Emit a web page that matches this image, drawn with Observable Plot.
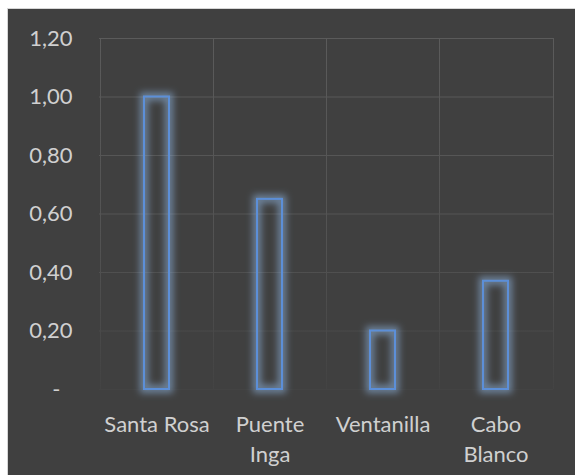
<!DOCTYPE html>
<html>
<head>
<meta charset="utf-8">
<script src="https://cdn.jsdelivr.net/npm/d3@7"></script>
<script src="https://cdn.jsdelivr.net/npm/@observablehq/plot@0.6"></script>
<style>
  html, body { margin: 0; padding: 0; background: #ffffff; }
  #chart {
    position: absolute; left: 7px; top: 8px;
    width: 568px; height: 467px;
    background: #404040;
    border-left: 1px solid #d6d6d6; border-top: 1px solid #d6d6d6;
    overflow: hidden;
  }
  #chart svg { display: block; }
</style>
</head>
<body>
<div id="chart"></div>
<script>
// Sampling sites and measured values
const sites = ["Santa Rosa", "Puente Inga", "Ventanilla", "Cabo Blanco"];
const siteLabels = ["Santa Rosa", "Puente\nInga", "Ventanilla", "Cabo\nBlanco"];
const values = [1.00, 0.65, 0.20, 0.37];
const yTicks = [0, 0.2, 0.4, 0.6, 0.8, 1.0, 1.2];

const data = sites.map((site, i) => ({site, value: values[i]}));
const fmt = v => d3.format(".2f")(v).replace(".", ",");

const W = 568, H = 466;
const M = {top: 29, right: 23, bottom: 86, left: 91};

// vertical separators at the band edges, drawn from the x scale
function bandSeparators(index, scales, values, dims) {
  const g = d3.create("svg:g");
  const xs = sites.map(s => scales.x(s)).concat([dims.width - dims.marginRight]);
  g.selectAll("line").data(xs).join("line")
    .attr("x1", d => Math.round(d) + 0.5).attr("x2", d => Math.round(d) + 0.5)
    .attr("y1", dims.marginTop).attr("y2", dims.height - dims.marginBottom)
    .attr("stroke", "url(#gridFade)").attr("stroke-width", 1);
  return g.node();
}

const chart = Plot.plot({
  width: W, height: H,
  marginTop: M.top, marginRight: M.right, marginBottom: M.bottom, marginLeft: M.left,
  style: {background: "transparent", color: "#d0d0d0", fontFamily: "Lato, 'Open Sans', sans-serif", fontSize: "22px"},
  x: {type: "band", domain: sites, padding: 0, label: null},
  y: {domain: [0, 1.2], label: null},
  marks: [
    Plot.ruleY(yTicks, {stroke: "url(#gridFade)", strokeWidth: 1}),
    bandSeparators,
    Plot.barY(data, {x: "site", y: "value", fill: "none", stroke: "#5b8fd8", strokeWidth: 2, insetLeft: 44, insetRight: 44}),
    Plot.axisY(yTicks.filter(v => v > 0), {tickSize: 0, tickPadding: 27, tickFormat: fmt}),
    Plot.axisY([0], {tickSize: 0, tickPadding: 27, dx: -12, tickFormat: () => "-"}),
    Plot.axisX({tickSize: 0, tickPadding: 22, lineHeight: 1.33, tickFormat: s => siteLabels[sites.indexOf(s)]})
  ]
});

// gradient for the fading grid and the glow around the bars
const defs = d3.select(chart).insert("defs", ":first-child");
const grad = defs.append("linearGradient").attr("id", "gridFade")
  .attr("gradientUnits", "userSpaceOnUse")
  .attr("x1", 0).attr("x2", 0).attr("y1", M.top).attr("y2", H - M.bottom);
grad.append("stop").attr("offset", "0%").attr("stop-color", "#5b5b5b");
grad.append("stop").attr("offset", "60%").attr("stop-color", "#525252");
grad.append("stop").attr("offset", "100%").attr("stop-color", "#434343");

const glow = defs.append("filter").attr("id", "glow")
  .attr("x", "-20%").attr("y", "-20%").attr("width", "140%").attr("height", "140%");
glow.append("feMorphology").attr("in", "SourceGraphic").attr("operator", "dilate").attr("radius", 2.5).attr("result", "d");
glow.append("feGaussianBlur").attr("in", "d").attr("stdDeviation", 3.5).attr("result", "b");
glow.append("feColorMatrix").attr("in", "b").attr("type", "matrix")
  .attr("values", "0 0 0 0 0.27  0 0 0 0 0.45  0 0 0 0 0.72  0 0 0 0.6 0").attr("result", "b2");
const merge = glow.append("feMerge");
merge.append("feMergeNode").attr("in", "b2");
merge.append("feMergeNode").attr("in", "SourceGraphic");

const barGroup = chart.querySelector('g[aria-label="bar"]');
if (barGroup) barGroup.setAttribute("filter", "url(#glow)");

document.getElementById("chart").appendChild(chart);
</script>
</body>
</html>
